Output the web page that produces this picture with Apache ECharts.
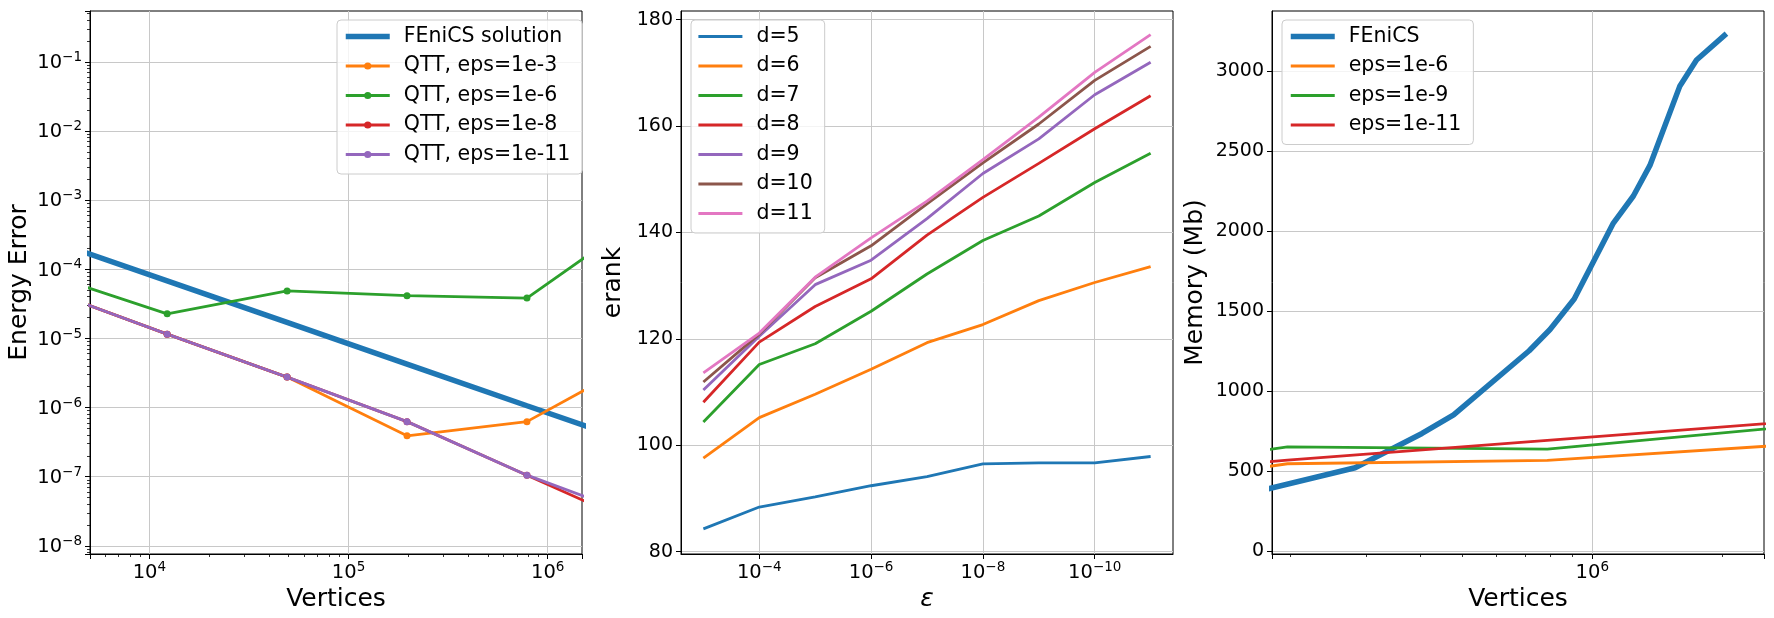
<!DOCTYPE html>
<html>
<head>
<meta charset="utf-8">
<script src="https://cdn.jsdelivr.net/npm/echarts@6/dist/echarts.min.js"></script>
<style>
html, body { margin: 0; padding: 0; background: #fff; }
#main { width: 1774px; height: 618px; }
</style>
</head>
<body>
<div id="main"></div>
<script>
// left panel: energy error against number of vertices
var vertices = [3072, 12288, 49152, 196608, 786432, 3145728];
var errFenics = [2.7e-4, 6.8e-5, 1.7e-5, 4.25e-6, 1.06e-6, 2.66e-7];
var errEps3 = [5.0e-5, 1.15e-5, 2.75e-6, 3.89e-7, 6.24e-7, 5.6e-6];
var errEps6 = [8.4e-5, 2.26e-5, 4.85e-5, 4.14e-5, 3.83e-5, 6.3e-4];
var errEps8 = [5.0e-5, 1.15e-5, 2.75e-6, 6.24e-7, 1.05e-7, 1.76e-8];
var errEps11 = [5.0e-5, 1.15e-5, 2.75e-6, 6.24e-7, 1.05e-7, 2.4e-8];

// middle panel: erank against epsilon
var epsValues = [1e-3, 1e-4, 1e-5, 1e-6, 1e-7, 1e-8, 1e-9, 1e-10, 1e-11];
var erankD5 = [84.3, 88.4, 90.3, 92.4, 94.1, 96.5, 96.7, 96.7, 97.9];
var erankD6 = [97.6, 105.2, 109.6, 114.3, 119.3, 122.7, 127.2, 130.6, 133.6];
var erankD7 = [104.4, 115.2, 119.1, 125.2, 132.2, 138.5, 143.1, 149.4, 154.9];
var erankD8 = [108.1, 119.4, 126.1, 131.3, 139.5, 146.6, 153.0, 159.5, 165.7];
var erankD9 = [110.4, 120.5, 130.2, 134.8, 142.6, 151.1, 157.6, 165.9, 172.0];
var erankD10 = [111.9, 120.9, 131.5, 137.5, 145.4, 153.1, 160.4, 168.6, 175.0];
var erankD11 = [113.6, 121.1, 131.6, 139.0, 145.9, 153.7, 161.7, 170.1, 177.2];

// right panel: memory against number of vertices
var memVertices = [175000, 282000, 403000, 477000, 714000, 798000, 908000, 1119000, 1245000, 1360000, 1596000, 1744000, 2046000];
var memFenics = [387, 523, 737, 853, 1254, 1387, 1577, 2052, 2221, 2412, 2909, 3071, 3236];
var memQttVertices = [49152, 196608, 786432, 3145728];
var memEps6 = [315, 548, 569, 674];
var memEps9 = [420, 653, 639, 790];
var memEps11 = [446, 570, 694, 818];

var FONT = 'DejaVu Sans';
var C = ['#1f77b4', '#ff7f0e', '#2ca02c', '#d62728', '#9467bd', '#8c564b', '#e377c2'];
var THICK = 5.5, THIN = 2.8;

function zip(xs, ys) {
    var out = [];
    for (var i = 0; i < xs.length; i++) out.push([xs[i], ys[i]]);
    return out;
}

// 10^n labels, only at whole powers
function powLabel(v) {
    var e = Math.log(v) / Math.LN10;
    var r = Math.round(e);
    if (Math.abs(e - r) > 1e-6) return '';
    return '{a|10}{b|' + (r < 0 ? '\u2212' + (-r) : r) + '}';
}
function stepLabel(step) {
    return function (v) {
        return Math.abs(v / step - Math.round(v / step)) < 1e-6 ? String(Math.round(v)) : '';
    };
}
var richPow = {
    a: { fontSize: 19.5, fontFamily: FONT, color: '#000', verticalAlign: 'bottom' },
    b: { fontSize: 13.5, fontFamily: FONT, color: '#000', verticalAlign: 'bottom', padding: [0, 0, 8.5, 0] }
};

function axis(o) {
    var a = {
        gridIndex: o.grid,
        type: o.type,
        min: o.min,
        max: o.max,
        inverse: !!o.inverse,
        name: o.name,
        nameLocation: 'middle',
        nameGap: o.nameGap,
        nameTextStyle: { fontSize: 25, fontFamily: FONT, color: '#000', fontStyle: o.italic ? 'italic' : 'normal' },
        axisLine: { show: true, onZero: false, lineStyle: { color: '#000', width: 1 } },
        axisTick: { show: true, length: 5, lineStyle: { color: '#000', width: 1 } },
        minorTick: { show: !!o.minor, splitNumber: 9, length: 3, lineStyle: { color: '#000', width: 0.8 } },
        axisLabel: {
            formatter: o.formatter, margin: o.labelMargin || 8, color: '#000',
            fontSize: 19, fontFamily: FONT, rich: richPow,
            showMinLabel: false, showMaxLabel: false
        },
        splitLine: { show: true, showMinLine: false, showMaxLine: false, lineStyle: { color: '#c8c8c8', width: 1 } }
    };
    if (o.logBase) a.logBase = o.logBase;
    return a;
}

// legend entries: plain lines hide the circle ECharts puts in line-series icons
function entry(name, width, marker) {
    var e = { name: name, lineStyle: { width: width } };
    if (!marker) e.itemStyle = { color: 'rgba(0,0,0,0)', borderWidth: 0 };
    return e;
}

function legend(left, items) {
    return {
        left: left, top: 20, orient: 'vertical', data: items,
        itemWidth: 44, itemHeight: 9, itemGap: 8.5,
        padding: [6, 12, 9, 6],
        backgroundColor: 'rgba(255,255,255,0.8)',
        borderColor: '#cccccc', borderWidth: 1, borderRadius: 4,
        selectedMode: false,
        textStyle: { fontSize: 20.5, fontFamily: FONT, color: '#000', lineHeight: 20.5, padding: [0, 0, 0, 9] }
    };
}

function line(name, xi, data, color, width, marker) {
    return {
        name: name, type: 'line', xAxisIndex: xi, yAxisIndex: xi,
        data: data,
        symbol: marker ? 'circle' : 'none', symbolSize: 7,
        itemStyle: { color: color },
        lineStyle: { color: color, width: width },
        emphasis: { disabled: true },
        clip: true
    };
}

var chart = echarts.init(document.getElementById('main'));

var option = {
    backgroundColor: '#fff',
    animation: false,
    grid: [
        { left: 90, top: 11, width: 492, height: 543, show: true, borderColor: '#000', borderWidth: 1 },
        { left: 681, top: 11, width: 492, height: 543, show: true, borderColor: '#000', borderWidth: 1 },
        { left: 1272, top: 11, width: 492, height: 543, show: true, borderColor: '#000', borderWidth: 1 }
    ],
    xAxis: [
        axis({ grid: 0, type: 'log', min: 5036, max: 1486000, name: 'Vertices', nameGap: 33, minor: true, formatter: powLabel, labelMargin: 6 }),
        axis({ grid: 1, type: 'log', logBase: 100, min: 3.98e-12, max: 2.512e-3, inverse: true, name: '\u03b5', italic: true, nameGap: 32, formatter: powLabel, labelMargin: 6 }),
        axis({ grid: 2, type: 'log', min: 181000, max: 2500000, name: 'Vertices', nameGap: 33, minor: true, formatter: powLabel, labelMargin: 6 })
    ],
    yAxis: [
        axis({ grid: 0, type: 'log', min: 7.6e-9, max: 0.543, name: 'Energy Error', nameGap: 58, minor: true, formatter: powLabel }),
        axis({ grid: 1, type: 'value', min: 79.57, max: 181.64, name: 'erank', nameGap: 55, formatter: stepLabel(20) }),
        axis({ grid: 2, type: 'value', min: -16, max: 3377, name: 'Memory (Mb)', nameGap: 64, formatter: stepLabel(500) })
    ],
    legend: [
        legend(337, [entry('FEniCS solution', THICK, false), entry('QTT, eps=1e-3', THIN, true),
            entry('QTT, eps=1e-6', THIN, true), entry('QTT, eps=1e-8', THIN, true), entry('QTT, eps=1e-11', THIN, true)]),
        legend(691, [entry('d=5', THIN), entry('d=6', THIN), entry('d=7', THIN), entry('d=8', THIN),
            entry('d=9', THIN), entry('d=10', THIN), entry('d=11', THIN)]),
        legend(1282, [entry('FEniCS', THICK), entry('eps=1e-6', THIN), entry('eps=1e-9', THIN), entry('eps=1e-11', THIN)])
    ],
    series: [
        line('FEniCS solution', 0, zip(vertices, errFenics), C[0], THICK, false),
        line('QTT, eps=1e-3', 0, zip(vertices, errEps3), C[1], THIN, true),
        line('QTT, eps=1e-6', 0, zip(vertices, errEps6), C[2], THIN, true),
        line('QTT, eps=1e-8', 0, zip(vertices, errEps8), C[3], THIN, true),
        line('QTT, eps=1e-11', 0, zip(vertices, errEps11), C[4], THIN, true),

        line('d=5', 1, zip(epsValues, erankD5), C[0], THIN, false),
        line('d=6', 1, zip(epsValues, erankD6), C[1], THIN, false),
        line('d=7', 1, zip(epsValues, erankD7), C[2], THIN, false),
        line('d=8', 1, zip(epsValues, erankD8), C[3], THIN, false),
        line('d=9', 1, zip(epsValues, erankD9), C[4], THIN, false),
        line('d=10', 1, zip(epsValues, erankD10), C[5], THIN, false),
        line('d=11', 1, zip(epsValues, erankD11), C[6], THIN, false),

        line('FEniCS', 2, zip(memVertices, memFenics), C[0], THICK, false),
        line('eps=1e-6', 2, zip(memQttVertices, memEps6), C[1], THIN, false),
        line('eps=1e-9', 2, zip(memQttVertices, memEps9), C[2], THIN, false),
        line('eps=1e-11', 2, zip(memQttVertices, memEps11), C[3], THIN, false)
    ]
};

chart.setOption(option);
</script>
</body>
</html>
